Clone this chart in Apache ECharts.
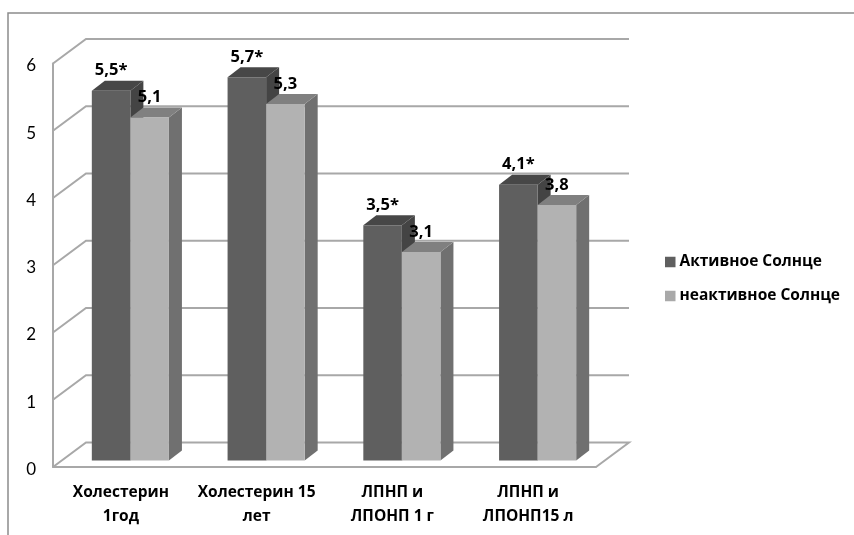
<!DOCTYPE html>
<html>
<head>
<meta charset="utf-8">
<style>html,body{margin:0;padding:0;background:#fff}#chart{width:854px;height:535px}</style>
<script src="https://cdn.jsdelivr.net/npm/echarts@6/dist/echarts.min.js"></script>
</head>
<body>
<div id="chart"></div>
<script>
const categories = ['Холестерин\n1год', 'Холестерин 15\nлет', 'ЛПНП и\nЛПОНП 1 г', 'ЛПНП и\nЛПОНП15 л'];
const seriesNames = ['Активное Солнце', 'неактивное Солнце'];
const activeValues = [5.5, 5.7, 3.5, 4.1];
const inactiveValues = [5.1, 5.3, 3.1, 3.8];
const activeLabels = ['5,5*', '5,7*', '3,5*', '4,1*'];
const inactiveLabels = ['5,1', '5,3', '3,1', '3,8'];
const yTicks = [0, 1, 2, 3, 4, 5, 6];

const FONT = '"Open Sans", "Noto Sans", sans-serif';
const TICK_FONT = 'Lato, "Noto Sans", sans-serif';
const GRID_LINE = '#a8a8a8';
// oblique offset of the back wall and of a bar's depth
const WALL_DX = 33, WALL_DY = -24.5;
const BAR_DX = 13, BAR_DY = -10;
// bars stand a little inside the floor
const FLOOR_DX = 9.5, FLOOR_DY = -6.5;
const BAR_WIDTH_RATIO = 0.284;

const poly = (points, fill, z2) => ({
  type: 'polygon', z2: z2 || 0, shape: { points }, style: { fill, stroke: null }
});

function renderWall(params, api) {
  const rect = params.coordSys;
  const value = api.value(0);
  const y = api.coord([0, value])[1];
  const x0 = rect.x, x1 = rect.x + rect.width;
  const points = [[x0, y], [x0 + WALL_DX, y + WALL_DY], [x1 + WALL_DX, y + WALL_DY]];
  if (value === 0) points.push([x1, y]);
  return {
    type: 'polyline',
    shape: { points },
    style: { fill: null, stroke: GRID_LINE, lineWidth: 2 }
  };
}

function makeBarRenderer(side, colors, labels) {
  return function (params, api) {
    const band = api.size([1, 0])[0];
    const w = band * BAR_WIDTH_RATIO;
    const top = api.coord([api.value(0), api.value(1)]);
    const base = api.coord([api.value(0), 0]);
    const xl = top[0] + FLOOR_DX + (side < 0 ? -w : 0);
    const xr = xl + w;
    const yt = top[1] + FLOOR_DY;
    const yb = base[1] + FLOOR_DY;
    return {
      type: 'group',
      children: [
        poly([[xr, yt], [xr + BAR_DX, yt + BAR_DY], [xr + BAR_DX, yb + BAR_DY], [xr, yb]], colors.side),
        poly([[xl, yt], [xl + BAR_DX, yt + BAR_DY], [xr + BAR_DX, yt + BAR_DY], [xr, yt]], colors.top),
        poly([[xl, yt], [xr, yt], [xr, yb], [xl, yb]], colors.front),
        {
          type: 'text',
          z2: 10,
          style: {
            x: (xl + xr) / 2,
            y: yt + BAR_DY - 10,
            text: labels[params.dataIndex],
            align: 'center',
            verticalAlign: 'middle',
            fill: '#000',
            font: 'bold 16.5px ' + FONT
          }
        }
      ]
    };
  };
}

const chart = echarts.init(document.getElementById('chart'), null, { renderer: 'canvas' });
chart.setOption({
  animation: false,
  backgroundColor: '#fff',
  grid: { left: 53, right: 258, top: 63.5, bottom: 68 },
  legend: {
    data: seriesNames,
    orient: 'vertical',
    left: 660,
    top: 249,
    icon: 'rect',
    itemWidth: 10.5,
    itemHeight: 10.5,
    itemGap: 18,
    textStyle: { fontFamily: FONT, fontWeight: 'bold', fontSize: 15.5, color: '#000', padding: [0, 0, 0, -1] },
    selectedMode: false
  },
  xAxis: {
    type: 'category',
    data: categories,
    axisTick: { show: false },
    axisLine: { lineStyle: { color: GRID_LINE, width: 2 } },
    axisLabel: {
      interval: 0,
      margin: 14,
      fontFamily: FONT,
      fontWeight: 'bold',
      fontSize: 15.5,
      lineHeight: 24,
      color: '#000'
    }
  },
  yAxis: {
    type: 'value',
    min: 0,
    max: 6,
    interval: 1,
    splitLine: { show: false },
    axisTick: { show: false },
    axisLine: { show: true, lineStyle: { color: GRID_LINE, width: 2 } },
    axisLabel: { margin: 17, fontFamily: TICK_FONT, fontSize: 17, color: '#000', verticalAlign: 'top', lineHeight: 5 }
  },
  graphic: [{
    type: 'polyline',
    silent: true,
    shape: { points: [[8, 535], [8, 13], [854, 13]] },
    style: { fill: null, stroke: '#8c8c8c', lineWidth: 1.5 }
  }],
  series: [
    {
      type: 'custom',
      silent: true,
      z: 1,
      renderItem: renderWall,
      encode: { y: 0 },
      data: yTicks.map(v => [v])
    },
    {
      name: seriesNames[0],
      type: 'custom',
      z: 2,
      itemStyle: { color: '#5f5f5f' },
      renderItem: makeBarRenderer(-1, { front: '#5f5f5f', top: '#474747', side: '#444444' }, activeLabels),
      encode: { x: 0, y: 1 },
      data: activeValues.map((v, i) => [i, v])
    },
    {
      name: seriesNames[1],
      type: 'custom',
      z: 3,
      itemStyle: { color: '#a9a9a9' },
      renderItem: makeBarRenderer(1, { front: '#b2b2b2', top: '#808080', side: '#707070' }, inactiveLabels),
      encode: { x: 0, y: 1 },
      data: inactiveValues.map((v, i) => [i, v])
    }
  ]
});
</script>
</body>
</html>
